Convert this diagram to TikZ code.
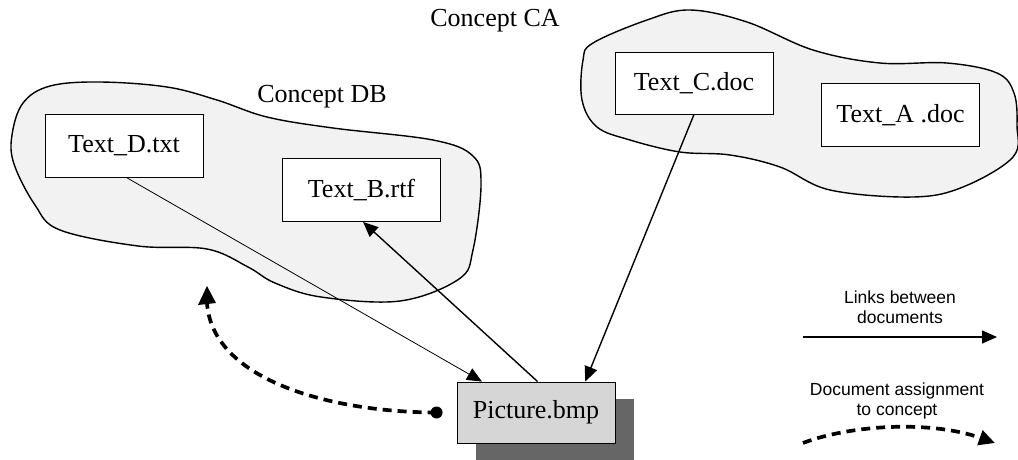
\documentclass[tikz,border=0pt]{standalone}
\usepackage{fontspec}
\setmainfont{Liberation Serif}
\newfontfamily\legendfont{Liberation Sans}
\usetikzlibrary{arrows.meta,calc,shadows}
\begin{document}
\begin{tikzpicture}[x=1pt,y=-1pt,
  blob/.style={draw, line width=1.4pt, fill=black!5},
  docbox/.style={draw, line width=0.9pt, fill=white, minimum width=158pt,
    minimum height=63pt, inner sep=0pt, font=\fontsize{26}{30}\selectfont},
  conceptlabel/.style={font=\fontsize{26}{30}\selectfont},
  link/.style={line width=1.4pt, -{Triangle[length=15pt,width=13pt]}},
  thinlink/.style={line width=0.8pt, -{Triangle[length=15pt,width=13pt]}},
  assign/.style={line width=3.7pt, dash pattern=on 9pt off 6pt},
  legendtext/.style={font=\legendfont\fontsize{17.5}{20.5}\selectfont, align=center}]

% page
\fill[white] (0,0) rectangle (1018,459);
\useasboundingbox (0,0) rectangle (1018,459);

% concept regions
\draw[blob] plot[smooth cycle, tension=0.6] coordinates {
  (12,135) (23,103) (50,86) (100,82) (167,87) (217,100) (267,117)
  (333,128) (433,140) (473,156) (481,185) (473,250) (459,279) (400,301)
  (321,297) (275,283) (248,267) (207,249) (138,246) (60,230) (35,205) (14,164)};
\draw[blob] plot[smooth cycle, tension=0.6] coordinates {
  (583,60) (593,43) (647,20) (690,10) (747,22) (813,50) (880,63) (947,63)
  (997,73) (1014,93) (1017,125) (1013,157) (963,187) (913,197) (830,190)
  (780,167) (730,155) (680,152) (630,140) (597,127) (582,100)};

\node[conceptlabel] (cdb) at (322,97) {Concept DB};
\node[conceptlabel] (cca) at (495,21) {Concept CA};

% documents
\node[docbox] (D) at (124,146) {Text\_D.txt};
\node[docbox] (B) at (361.5,190) {Text\_B.rtf};
\node[docbox, minimum height=62pt] (C) at (694,83) {Text\_C.doc};
\node[docbox] (A) at (900.5,115) {Text\_A .doc};
\node[docbox, fill=black!16, minimum height=61pt,
  drop shadow={shadow xshift=19pt, shadow yshift=-17pt, opacity=1, fill=black!60, draw=none}]
  (P) at (536,412.5) {Picture.bmp};

% links between documents
\draw[thinlink] ($(D.south west)!0.52!(D.south east)$) -- ($(P.north west)!0.16!(P.north east)$);
\draw[link] ($(P.north west)!0.51!(P.north east)$) -- ($(B.south west)!0.51!(B.south east)$);
\draw[link] (C.south) -- ($(P.north west)!0.81!(P.north east)$);

% assignment of the picture to a concept
\coordinate (dot) at ($(P.west)+(-20,0)$);
\coordinate (tip) at (207,286);
\draw[assign] (dot) .. controls (325,412) and (212,378) .. ($(tip)+(0,17)$);
\fill (dot) circle (6pt);
\fill (tip) -- ($(tip)+(-9,19)$) -- ($(tip)+(9,17)$) -- cycle;

% legend
\node[legendtext] (l1) at (900,307) {Links between\\documents};
\coordinate (l1a) at (803,337);
\coordinate (l1b) at (997,337);
\draw[link] (l1a) -- (l1b);

\node[legendtext] (l2) at (897,401) {Document assignment\\to concept};
\coordinate (l2a) at (803,443);
\coordinate (l2b) at (995,443);
\draw[assign, -{Triangle[length=16pt,width=15pt]}] (l2a) .. controls (850,425) and (930,420) .. (l2b);
\end{tikzpicture}
\end{document}
